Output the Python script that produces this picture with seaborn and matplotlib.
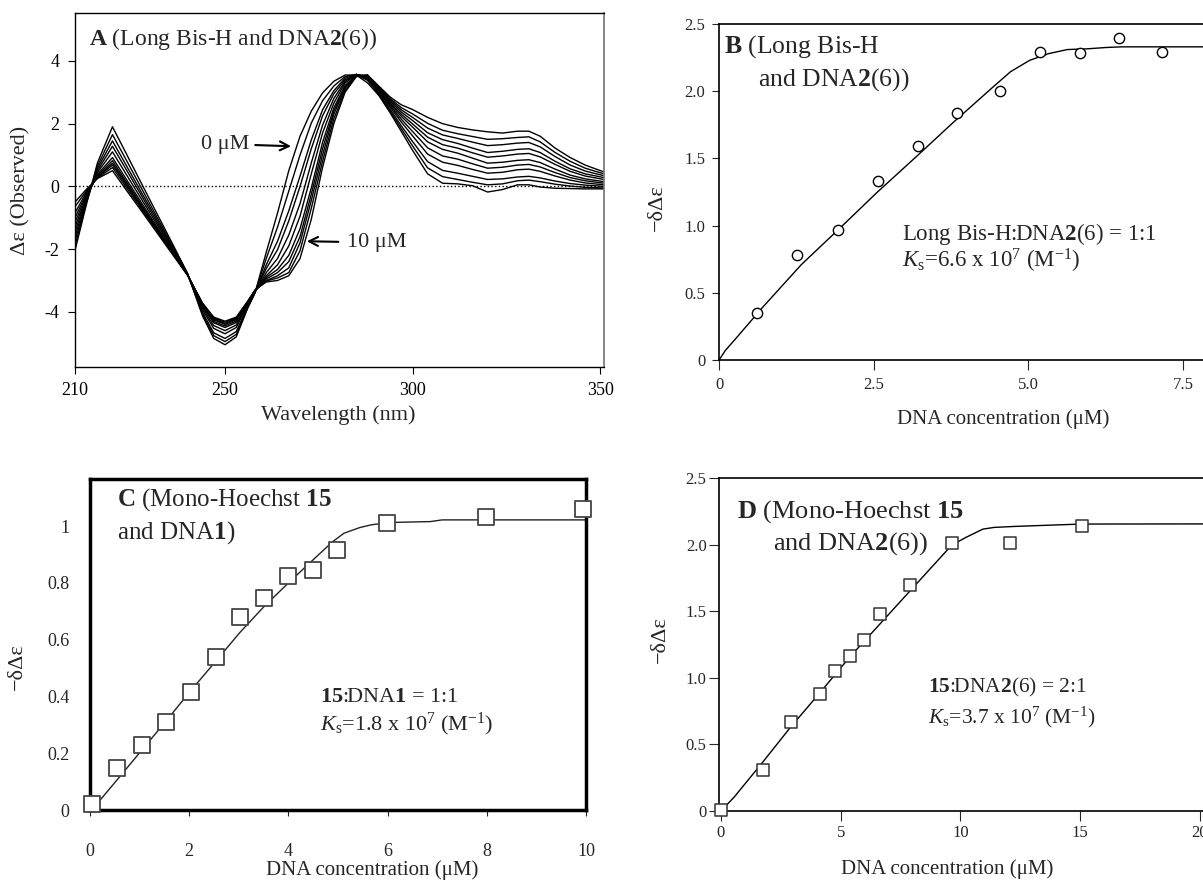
import matplotlib
matplotlib.use('Agg')
import pandas as pd
import matplotlib.pyplot as plt
import seaborn as sns

# ---- panel A: CD titration spectra ----
wavelength = [210, 213, 216, 220, 224, 228, 232, 236, 240, 244, 247, 250, 253, 256, 258,
              261, 264, 267, 270, 273, 276, 279, 282, 285, 288, 291, 294, 297, 300, 304,
              308, 312, 316, 320, 324, 328, 331, 334, 338, 342, 346, 351]
cd_0uM = [-2.05, -0.6, 0.75, 1.9, 0.97, 0.03, -0.9, -1.83, -2.77, -4.13, -4.85, -5.05, -4.8, -3.9, -3.4,
          -2.1, -0.85, 0.5, 1.6, 2.4, 2.98, 3.35, 3.55, 3.55, 3.3, 2.9, 2.35, 1.75, 1.15, 0.4,
          0.1, 0.08, 0.02, -0.18, -0.1, 0.05, 0.05, -0.02, -0.06, -0.07, -0.08, -0.08]
cd_1uM = [-1.9, -0.55, 0.65, 1.65, 0.77, -0.12, -1.01, -1.89, -2.78, -4.07, -4.76, -4.95, -4.72, -3.87, -3.39,
          -2.3, -1.3, -0.15, 1.0, 2.02, 2.73, 3.2, 3.5, 3.57, 3.38, 2.93, 2.4, 1.84, 1.29, 0.59,
          0.31, 0.22, 0.13, 0.05, 0.08, 0.18, 0.2, 0.15, 0.07, 0.01, -0.03, -0.05]
cd_2uM = [-1.75, -0.5, 0.57, 1.45, 0.6, -0.25, -1.09, -1.94, -2.79, -4.02, -4.67, -4.85, -4.63, -3.84, -3.38,
          -2.5, -1.75, -0.78, 0.33, 1.48, 2.44, 3.05, 3.45, 3.57, 3.42, 2.96, 2.46, 1.93, 1.43, 0.79,
          0.51, 0.42, 0.32, 0.22, 0.24, 0.3, 0.32, 0.27, 0.17, 0.09, 0.04, 0.0]
cd_3uM = [-1.6, -0.45, 0.5, 1.28, 0.47, -0.35, -1.17, -1.98, -2.8, -3.94, -4.53, -4.7, -4.5, -3.79, -3.37,
          -2.62, -2.02, -1.1, 0.0, 1.2, 2.25, 2.95, 3.4, 3.57, 3.45, 3.01, 2.53, 2.05, 1.61, 1.03,
          0.77, 0.67, 0.54, 0.42, 0.45, 0.53, 0.55, 0.48, 0.33, 0.2, 0.11, 0.05]
cd_4uM = [-1.45, -0.4, 0.44, 1.1, 0.32, -0.46, -1.24, -2.02, -2.8, -3.88, -4.44, -4.6, -4.42, -3.76, -3.36,
          -2.75, -2.3, -1.55, -0.55, 0.75, 1.95, 2.8, 3.35, 3.57, 3.48, 3.04, 2.58, 2.14, 1.75, 1.23,
          0.97, 0.87, 0.72, 0.58, 0.61, 0.68, 0.7, 0.62, 0.44, 0.28, 0.18, 0.1]
cd_5uM = [-1.3, -0.35, 0.38, 0.92, 0.17, -0.57, -1.32, -2.07, -2.81, -3.83, -4.35, -4.5, -4.34, -3.73, -3.35,
          -2.85, -2.5, -1.9, -0.95, 0.4, 1.7, 2.65, 3.3, 3.57, 3.5, 3.07, 2.63, 2.23, 1.89, 1.42,
          1.18, 1.06, 0.9, 0.74, 0.77, 0.83, 0.85, 0.76, 0.55, 0.36, 0.24, 0.15]
cd_6uM = [-1.15, -0.3, 0.34, 0.82, 0.09, -0.64, -1.36, -2.09, -2.82, -3.8, -4.31, -4.45, -4.29, -3.72, -3.34,
          -2.9, -2.65, -2.2, -1.35, -0.05, 1.4, 2.5, 3.22, 3.55, 3.52, 3.09, 2.67, 2.3, 1.99, 1.57,
          1.33, 1.22, 1.07, 0.93, 0.97, 1.03, 1.05, 0.94, 0.7, 0.48, 0.33, 0.22]
cd_7uM = [-1.0, -0.25, 0.31, 0.74, 0.03, -0.69, -1.4, -2.11, -2.82, -3.77, -4.26, -4.4, -4.25, -3.7, -3.33,
          -2.95, -2.75, -2.4, -1.6, -0.25, 1.2, 2.4, 3.18, 3.55, 3.53, 3.12, 2.72, 2.37, 2.1, 1.71,
          1.49, 1.37, 1.22, 1.08, 1.12, 1.18, 1.2, 1.08, 0.8, 0.56, 0.4, 0.28]
cd_8uM = [-0.85, -0.2, 0.29, 0.68, -0.02, -0.72, -1.42, -2.12, -2.82, -3.75, -4.23, -4.37, -4.22, -3.69, -3.32,
          -3.0, -2.85, -2.6, -1.8, -0.45, 1.0, 2.3, 3.12, 3.53, 3.54, 3.14, 2.76, 2.44, 2.2, 1.86,
          1.64, 1.53, 1.41, 1.3, 1.33, 1.38, 1.4, 1.26, 0.95, 0.68, 0.49, 0.34]
cd_9uM = [-0.65, -0.15, 0.27, 0.6, -0.09, -0.77, -1.46, -2.14, -2.83, -3.73, -4.2, -4.33, -4.19, -3.68, -3.31,
          -3.02, -2.92, -2.75, -2.05, -0.7, 0.8, 2.15, 3.05, 3.52, 3.55, 3.17, 2.8, 2.51, 2.31, 2.01,
          1.79, 1.68, 1.59, 1.5, 1.52, 1.56, 1.58, 1.42, 1.08, 0.8, 0.58, 0.4]
cd_10uM = [-0.5, -0.1, 0.25, 0.5, -0.17, -0.83, -1.5, -2.17, -2.83, -3.72, -4.17, -4.3, -4.17, -3.67, -3.3,
           -3.05, -3.0, -2.85, -2.3, -1.05, 0.6, 2.0, 3.0, 3.5, 3.55, 3.2, 2.85, 2.6, 2.45, 2.2,
           2.0, 1.88, 1.8, 1.74, 1.7, 1.76, 1.76, 1.6, 1.22, 0.92, 0.68, 0.46]
spectra = [cd_0uM, cd_1uM, cd_2uM, cd_3uM, cd_4uM, cd_5uM, cd_6uM, cd_7uM, cd_8uM, cd_9uM, cd_10uM]
concentrations = [0, 1, 2, 3, 4, 5, 6, 7, 8, 9, 10]

# ---- panel B: Long Bis-H + DNA2(6) ----
b_dna = [0.61, 1.26, 1.93, 2.57, 3.22, 3.85, 4.54, 5.18, 5.83, 6.46, 7.15]
b_signal = [0.347, 0.78, 0.97, 1.33, 1.595, 1.835, 2.0, 2.294, 2.282, 2.393, 2.289]
b_fit_x = [0, 0.1, 0.29, 0.72, 1.33, 1.95, 2.56, 3.18, 3.79, 4.40, 4.71, 5.02, 5.33, 5.63, 5.94, 6.25, 6.5, 7.85]
b_fit_y = [0, 0.07, 0.17, 0.40, 0.71, 0.98, 1.25, 1.51, 1.77, 2.02, 2.145, 2.23, 2.28, 2.31, 2.315, 2.325, 2.33, 2.33]

# ---- panel C: Mono-Hoechst 15 + DNA1 ----
c_dna = [0.05, 0.54, 1.04, 1.54, 2.03, 2.54, 3.02, 3.50, 4.0, 4.50, 4.98, 5.99, 7.98, 9.94]
c_signal = [0.022, 0.149, 0.229, 0.31, 0.414, 0.54, 0.681, 0.746, 0.826, 0.846, 0.916, 1.01, 1.032, 1.061]
c_fit_x = [0.18, 0.54, 1.04, 1.54, 2.03, 2.54, 3.02, 3.5, 4.0, 4.49, 4.89, 5.12, 5.44, 5.68, 6.07, 6.86, 7.1, 10.0]
c_fit_y = [0.03, 0.105, 0.21, 0.315, 0.42, 0.525, 0.625, 0.715, 0.8, 0.88, 0.945, 0.975, 0.995, 1.005, 1.013, 1.016, 1.022, 1.022]

# ---- panel D: Mono-Hoechst 15 + DNA2(6) ----
d_dna = [0.0, 1.76, 2.91, 4.12, 4.76, 5.38, 5.97, 6.66, 7.88, 9.63, 12.06, 15.06]
d_signal = [0.01, 0.308, 0.67, 0.882, 1.054, 1.163, 1.282, 1.479, 1.694, 2.008, 2.015, 2.14]
d_fit_x = [0, 0.56, 1.76, 2.91, 4.12, 5.38, 6.66, 7.88, 9.03, 9.63, 10.22, 10.94, 11.42, 12.38, 15.06, 20.2]
d_fit_y = [0, 0.106, 0.37, 0.63, 0.885, 1.156, 1.408, 1.649, 1.876, 1.994, 2.053, 2.116, 2.129, 2.137, 2.154, 2.155]

sns.set_theme(style='ticks')
plt.rcParams['font.family'] = ['Liberation Serif', 'DejaVu Serif']
plt.rcParams['mathtext.fontset'] = 'custom'
plt.rcParams['mathtext.rm'] = 'Liberation Serif'
plt.rcParams['mathtext.it'] = 'Liberation Serif:italic'
plt.rcParams['mathtext.bf'] = 'Liberation Serif:bold'
plt.rcParams['axes.unicode_minus'] = False

fig = plt.figure(figsize=(12.03, 8.82), dpi=100)
ax_a = fig.add_axes([0.0623, 0.5839, 0.4397, 0.4014])
ax_b = fig.add_axes([0.5977, 0.5918, 0.4023, 0.381])
ax_c = fig.add_axes([0.0748, 0.0816, 0.4123, 0.3753])
ax_d = fig.add_axes([0.5977, 0.0805, 0.4023, 0.3776])

ylabel_dd = '\u2212\u03b4\u0394\u03b5'

# ---------------- A ----------------
rows = []
for conc, vals in zip(concentrations, spectra):
    rows.append(pd.DataFrame({'wavelength': wavelength, 'cd': vals, 'conc': conc}))
df_a = pd.concat(rows, ignore_index=True)
sns.lineplot(data=df_a, x='wavelength', y='cd', units='conc', estimator=None,
             color='black', lw=1.0, ax=ax_a)
ax_a.axhline(0, color='black', ls=':', lw=1.0)
ax_a.set_xlim(210, 351)
ax_a.set_ylim(-5.76, 5.53)
ax_a.set_xticks([210, 250, 300, 350])
ax_a.set_yticks([-4, -2, 0, 2, 4])
ax_a.set_yticklabels(['-4', '-2', '0', '2', '4'])
ax_a.tick_params(direction='out', length=5, width=0.8, labelsize=13, pad=6, colors='black')
ax_a.set_xlabel('Wavelength (nm)', fontsize=16)
ax_a.set_ylabel('\u0394\u03b5 (Observed)', fontsize=16)
ax_a.xaxis.set_label_coords(0.497, -0.107)
ax_a.yaxis.set_label_coords(-0.084, 0.5)
for side in ['left', 'bottom', 'top']:
    ax_a.spines[side].set_color('black')
    ax_a.spines[side].set_linewidth(1.0)
ax_a.spines['right'].set_color('#777777')
ax_a.text(0.026, 0.91, r'$\mathbf{A}$ (Long Bis-H and DNA$\mathbf{2}$(6))', transform=ax_a.transAxes,
          fontsize=17, va='baseline')
ax_a.annotate('0 \u03bcM', xy=(267.6, 1.28), xytext=(250, 1.35), ha='center', va='center', fontsize=16,
              arrowprops=dict(arrowstyle='->', color='black', lw=1.5, shrinkA=2, shrinkB=0))
ax_a.annotate('10 \u03bcM', xy=(271.8, -1.75), xytext=(290.5, -1.79), ha='center', va='center', fontsize=16,
              arrowprops=dict(arrowstyle='->', color='black', lw=1.5, shrinkA=4, shrinkB=0))

# ---------------- B ----------------
sns.lineplot(x=b_fit_x, y=b_fit_y, color='black', lw=1.0, estimator=None, ax=ax_b)
sns.scatterplot(x=b_dna, y=b_signal, marker='o', s=55, color='white', edgecolor='black',
                linewidth=1.0, ax=ax_b, zorder=3, clip_on=False)
ax_b.set_xlim(0, 7.82)
ax_b.set_ylim(0, 2.5)
ax_b.set_xticks([0, 2.5, 5.0, 7.5])
ax_b.set_xticklabels(['0', '2.5', '5.0', '7.5'])
ax_b.set_yticks([0, 0.5, 1.0, 1.5, 2.0, 2.5])
ax_b.set_yticklabels(['0', '0.5', '1.0', '1.5', '2.0', '2.5'])
ax_b.tick_params(axis='x', direction='out', length=7, width=0.8, labelsize=12, pad=5)
ax_b.tick_params(axis='y', direction='out', length=5, width=0.8, labelsize=12, pad=5)
ax_b.set_xlabel('DNA concentration (\u03bcM)', fontsize=15)
ax_b.set_ylabel(ylabel_dd, fontsize=16)
ax_b.xaxis.set_label_coords(0.588, -0.146)
ax_b.yaxis.set_label_coords(-0.107, 0.455)
for side in ['left', 'bottom', 'top']:
    ax_b.spines[side].set_color('black')
    ax_b.spines[side].set_linewidth(1.2)
ax_b.spines['right'].set_visible(False)
ax_b.text(0.01, 0.914, r'$\mathbf{B}$ (Long Bis-H', transform=ax_b.transAxes, fontsize=18.5, va='baseline')
ax_b.text(0.081, 0.818, r'and DNA$\mathbf{2}$(6))', transform=ax_b.transAxes, fontsize=18.5, va='baseline')
ax_b.text(0.378, 0.357, r'Long Bis-H:DNA$\mathbf{2}$(6) = 1:1', transform=ax_b.transAxes,
          fontsize=16.5, va='baseline')
ax_b.text(0.378, 0.274, r'$K_{\mathrm{s}}$=6.6 x 10$^{7}$ (M$^{\mathrm{-1}}$)', transform=ax_b.transAxes,
          fontsize=16.5, va='baseline')

# ---------------- C ----------------
sns.lineplot(x=c_fit_x, y=c_fit_y, color='#222222', lw=1.0, estimator=None, ax=ax_c)
sns.scatterplot(x=c_dna, y=c_signal, marker='s', s=120, color='white', edgecolor='#444444',
                linewidth=1.3, ax=ax_c, zorder=3, clip_on=False)
ax_c.set_xlim(0, 10)
ax_c.set_ylim(0, 1.166)
ax_c.set_xticks([0, 2, 4, 6, 8, 10])
ax_c.set_yticks([0, 0.2, 0.4, 0.6, 0.8, 1.0])
ax_c.set_yticklabels(['0', '0.2', '0.4', '0.6', '0.8', '1'])
ax_c.tick_params(axis='x', direction='out', length=4, width=0.8, labelsize=13, pad=20)
ax_c.tick_params(axis='y', length=0, labelsize=13, pad=15)
ax_c.set_xlabel('DNA concentration (\u03bcM)', fontsize=15)
ax_c.set_ylabel(ylabel_dd, fontsize=16)
ax_c.xaxis.set_label_coords(0.569, -0.151)
ax_c.yaxis.set_label_coords(-0.128, 0.432)
for side in ['left', 'bottom', 'top', 'right']:
    ax_c.spines[side].set_color('black')
    ax_c.spines[side].set_linewidth(2.5)
ax_c.text(0.055, 0.921, r'$\mathbf{C}$ (Mono-Hoechst $\mathbf{15}$', transform=ax_c.transAxes,
          fontsize=18, va='baseline')
ax_c.text(0.055, 0.82, r'and DNA$\mathbf{1}$)', transform=ax_c.transAxes, fontsize=18, va='baseline')
ax_c.text(0.464, 0.326, r'$\mathbf{15}$:DNA$\mathbf{1}$ = 1:1', transform=ax_c.transAxes,
          fontsize=16, va='baseline')
ax_c.text(0.464, 0.242, r'$K_{\mathrm{s}}$=1.8 x 10$^{7}$ (M$^{\mathrm{-1}}$)', transform=ax_c.transAxes,
          fontsize=16, va='baseline')

# ---------------- D ----------------
sns.lineplot(x=d_fit_x, y=d_fit_y, color='black', lw=1.0, estimator=None, ax=ax_d)
sns.scatterplot(x=d_dna, y=d_signal, marker='s', s=80, color='white', edgecolor='#333333',
                linewidth=1.1, ax=ax_d, zorder=3, clip_on=False)
ax_d.set_xlim(-0.08, 20.13)
ax_d.set_ylim(0, 2.5)
ax_d.set_xticks([0, 5, 10, 15, 20])
ax_d.set_yticks([0, 0.5, 1.0, 1.5, 2.0, 2.5])
ax_d.set_yticklabels(['0', '0.5', '1.0', '1.5', '2.0', '2.5'])
ax_d.tick_params(axis='x', direction='out', length=7, width=0.8, labelsize=12, pad=3)
ax_d.tick_params(axis='y', direction='out', length=7, width=0.8, labelsize=12, pad=2)
ax_d.set_xlabel('DNA concentration (\u03bcM)', fontsize=15)
ax_d.set_ylabel(ylabel_dd, fontsize=16)
ax_d.xaxis.set_label_coords(0.471, -0.146)
ax_d.yaxis.set_label_coords(-0.101, 0.514)
for side in ['left', 'bottom', 'top']:
    ax_d.spines[side].set_color('black')
    ax_d.spines[side].set_linewidth(1.2)
ax_d.spines['right'].set_visible(False)
ax_d.text(0.038, 0.88, r'$\mathbf{D}$ (Mono-Hoechst $\mathbf{15}$', transform=ax_d.transAxes,
          fontsize=19, va='baseline')
ax_d.text(0.111, 0.786, r'and DNA$\mathbf{2}$(6))', transform=ax_d.transAxes, fontsize=19, va='baseline')
ax_d.text(0.431, 0.355, r'$\mathbf{15}$:DNA$\mathbf{2}$(6) = 2:1', transform=ax_d.transAxes,
          fontsize=15.5, va='baseline')
ax_d.text(0.431, 0.262, r'$K_{\mathrm{s}}$=3.7 x 10$^{7}$ (M$^{\mathrm{-1}}$)', transform=ax_d.transAxes,
          fontsize=15.5, va='baseline')

fig.savefig('out.png', dpi=100)
